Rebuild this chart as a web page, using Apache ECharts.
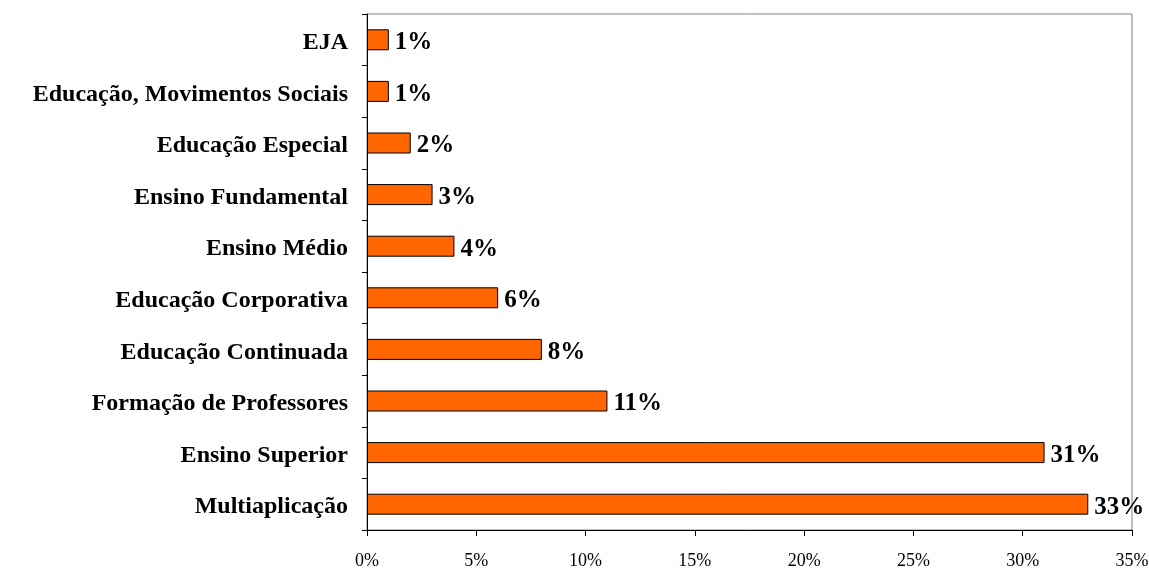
<!DOCTYPE html>
<html>
<head>
    <meta charset="UTF-8">
    <title>Áreas</title>
    <script src="https://cdn.jsdelivr.net/npm/echarts@6/dist/echarts.min.js"></script>
    <style>
        html, body { margin: 0; padding: 0; background: #fff; }
        #chart { width: 1149px; height: 570px; }
    </style>
</head>
<body>
    <div id="chart"></div>
    <script>
        // categorias, de baixo para cima
        const categories = ['Multiaplicação', 'Ensino Superior', 'Formação de Professores', 'Educação Continuada',
            'Educação Corporativa', 'Ensino Médio', 'Ensino Fundamental', 'Educação Especial',
            'Educação, Movimentos Sociais', 'EJA'];
        const values = [33, 31, 11, 8, 6, 4, 3, 2, 1, 1];
        const xTicks = [0, 5, 10, 15, 20, 25, 30, 35];

        const chart = echarts.init(document.getElementById('chart'));
        chart.setOption({
            animation: false,
            textStyle: { fontFamily: '"Liberation Serif", "Times New Roman", serif' },
            grid: {
                left: 367, right: 17, top: 14, bottom: 40,
                outerBoundsMode: 'none', containLabel: false,
                show: true, borderColor: '#808080', borderWidth: 1, backgroundColor: 'transparent'
            },
            xAxis: {
                type: 'value',
                min: xTicks[0],
                max: xTicks[xTicks.length - 1],
                interval: 5,
                axisLine: { show: true, lineStyle: { color: '#000', width: 1 } },
                axisTick: { show: true, length: 6, inside: false, lineStyle: { color: '#000' } },
                splitLine: { show: false },
                axisLabel: {
                    formatter: v => v + '%',
                    color: '#000', fontSize: 18, margin: 22,
                    fontFamily: '"Liberation Serif", serif'
                }
            },
            yAxis: {
                type: 'category',
                data: categories,
                axisLine: { show: true, lineStyle: { color: '#000', width: 1 } },
                axisTick: { show: true, length: 5, alignWithLabel: false, lineStyle: { color: '#000' } },
                axisLabel: {
                    margin: 19,
                    formatter: v => '{c|' + v + '}',
                    rich: {
                        c: {
                            color: '#000', fontSize: 24, fontWeight: 'bold',
                            padding: [6, 0, 0, 0],
                            fontFamily: '"Liberation Serif", serif'
                        }
                    }
                }
            },
            series: [{
                type: 'bar',
                data: values,
                barWidth: 21,
                itemStyle: { color: '#FF6600', borderColor: '#000', borderWidth: 1 },
                label: {
                    show: true, position: 'right', distance: 6, offset: [0, 3],
                    formatter: p => p.value + '%',
                    color: '#000', fontSize: 25, fontWeight: 'bold',
                    fontFamily: '"Liberation Serif", serif'
                }
            }]
        });
    </script>
</body>
</html>
